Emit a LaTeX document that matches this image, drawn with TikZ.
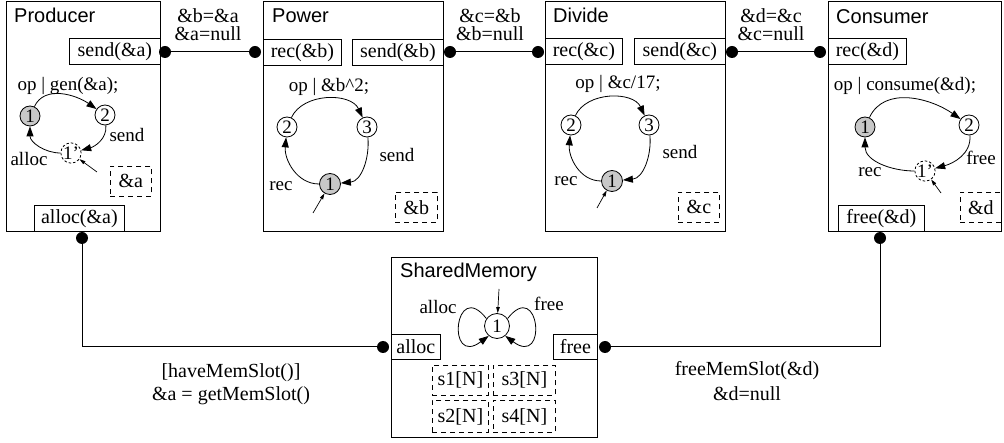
\documentclass[tikz,border=0pt]{standalone}
\usepackage{fontspec}
\setmainfont{Liberation Serif}
\newfontfamily\sansf{Liberation Sans}
\usetikzlibrary{arrows.meta}
\definecolor{stgray}{HTML}{C8C8C8}
\begin{document}
\begin{tikzpicture}[x=1pt,y=-1pt,
  comp/.style={draw, line width=0.9pt, inner sep=0, anchor=north west},
  port/.style={draw, line width=0.8pt, inner sep=0, anchor=north west, font=\fontsize{20}{22}\selectfont},
  slot/.style={draw, dash pattern=on 5pt off 4pt, line width=0.8pt, inner sep=0, anchor=north west, font=\fontsize{20}{22}\selectfont},
  dot/.style={circle, fill=black, minimum size=12pt, inner sep=0},
  st/.style={circle, draw, line width=0.8pt, minimum size=20pt, inner sep=0, font=\fontsize{19}{20}\selectfont},
  ghost/.style={st, dash pattern=on 2.5pt off 2pt, minimum size=18pt},
  tr/.style={-{Triangle[length=10pt,width=7pt]}, line width=0.8pt},
  initarr/.style={-{Triangle[length=6pt,width=3.5pt]}, line width=0.7pt},
  lab/.style={font=\fontsize{19}{20}\selectfont, inner sep=0, anchor=base},
  elab/.style={font=\fontsize{20}{22}\selectfont, inner sep=0, anchor=base},
  title/.style={font=\sansf\fontsize{20}{22}\selectfont, inner sep=0, anchor=base west},
  conn/.style={line width=1pt}
]
\useasboundingbox (0,0) rectangle (1004,443);

% ---------------- Producer
\node[comp, minimum width=154, minimum height=230] (prod) at (6,1) {};
\node[title] (prodT) at (14,23) {Producer};
\node[port, minimum width=91, minimum height=26] (sendA) at (69,38) {send(\&a)};
\node[port, minimum width=90, minimum height=26] (allocA) at (34,205) {alloc(\&a)};
\node[st, fill=stgray] (p1) at (30,116) {1};
\node[st] (p2) at (105,115) {2};
\node[ghost] (p3) at (71,153) {1'};
\node[lab] (pop) at (68,91) {op | gen(\&a);};
\node[lab] (psend) at (127,142) {send};
\node[lab] (palloc) at (29,166) {alloc};
\node[slot, minimum width=41, minimum height=30] (pslot) at (110,166) {\&a};
\coordinate (pi) at (97,172);
\draw[tr] (p1) to[out=65,in=145] (p2);
\draw[tr] (p2) to[out=-85,in=15] (p3);
\draw[tr] (p3) to[out=180,in=-90] (p1);
\draw[initarr] (pi) -- (p3);

% ---------------- Power
\node[comp, minimum width=180, minimum height=230] (pow) at (263,1) {};
\node[title] (powT) at (272,23) {Power};
\node[port, minimum width=78, minimum height=26] (recB) at (263,39) {rec(\&b)};
\node[port, minimum width=91, minimum height=26] (sendB) at (352,39) {send(\&b)};
\node[st] (w2) at (287,127) {2};
\node[st] (w3) at (367,127) {3};
\node[st, fill=stgray, minimum size=21pt] (w1) at (330,184) {1};
\node[lab] (wop) at (329,92) {op | \&b\textasciicircum 2;};
\node[lab] (wsend) at (397,162) {send};
\node[lab] (wrec) at (281,191) {rec};
\node[slot, minimum width=42, minimum height=30] (wslot) at (395,192) {\&b};
\coordinate (wi) at (313,213);
\draw[tr] (w2) to[out=65,in=115] (w3);
\draw[tr] (w3) to[out=-85,in=5] (w1);
\draw[tr] (w1) to[out=180,in=-95] (w2);
\draw[initarr] (wi) -- (w1);

% ---------------- Divide
\node[comp, minimum width=180, minimum height=230] (div) at (545,1) {};
\node[title] (divT) at (553,23) {Divide};
\node[port, minimum width=77, minimum height=26] (recC) at (545,38) {rec(\&c)};
\node[port, minimum width=91, minimum height=26] (sendC) at (634,38) {send(\&c)};
\node[st] (v2) at (571,125) {2};
\node[st] (v3) at (649,125) {3};
\node[st, fill=stgray, minimum size=21pt] (v1) at (612,181) {1};
\node[lab] (vop) at (618,89) {op | \&c/17;};
\node[lab] (vsend) at (680,159) {send};
\node[lab] (vrec) at (566,186) {rec};
\node[slot, minimum width=41, minimum height=30] (vslot) at (678,192) {\&c};
\coordinate (vi) at (597,208);
\draw[tr] (v2) to[out=65,in=115] (v3);
\draw[tr] (v3) to[out=-85,in=5] (v1);
\draw[tr] (v1) to[out=180,in=-95] (v2);
\draw[initarr] (vi) -- (v1);

% ---------------- Consumer
\node[comp, minimum width=173, minimum height=230] (cons) at (828,1) {};
\node[title] (consT) at (836,24) {Consumer};
\node[port, minimum width=78, minimum height=26] (recD) at (828,38) {rec(\&d)};
\node[port, minimum width=86, minimum height=26] (freeD) at (838,205) {free(\&d)};
\node[st, fill=stgray] (c1) at (865,127) {1};
\node[st] (c2) at (969,125) {2};
\node[ghost] (c3) at (925,171) {1'};
\node[lab] (cop) at (905,91) {op | consume(\&d);};
\node[lab] (cfree) at (981,165) {free};
\node[lab] (crec) at (870,177) {rec};
\node[slot, minimum width=41, minimum height=30] (cslot) at (960,192) {\&d};
\coordinate (ci) at (941,193);
\draw[tr] (c1) to[out=65,in=145] (c2);
\draw[tr] (c2) to[out=-85,in=15] (c3);
\draw[tr] (c3) to[out=180,in=-90] (c1);
\draw[initarr] (ci) -- (c3);

% ---------------- SharedMemory
\node[comp, minimum width=206, minimum height=180] (shm) at (391,257) {};
\node[title] (shmT) at (400,278) {SharedMemory};
\node[st, minimum size=25pt] (s) at (497,326) {1};
\coordinate (si) at (499,289);
\draw[initarr] (si) -- (s);
\node[lab] (salloc) at (438,314) {alloc};
\node[lab] (sfree) at (549,311) {free};
\draw[tr] (s.145) .. controls +(-32,-41) and +(-43,32) .. (s.230);
\draw[tr] (s.35) .. controls +(32,-41) and +(43,32) .. (s.-50);
\node[port, minimum width=49, minimum height=25] (allocS) at (391,334) {alloc};
\node[port, minimum width=44, minimum height=25] (freeS) at (553,334) {free};
\node[slot, minimum width=56, minimum height=30] (s1) at (432,365) {s1[N]};
\node[slot, minimum width=56, minimum height=32] (s2) at (432,400) {s2[N]};
\node[slot, minimum width=62, minimum height=30] (s3) at (493,365) {s3[N]};
\node[slot, minimum width=62, minimum height=32] (s4) at (493,400) {s4[N]};

% ---------------- dots and connectors
\node[dot] (dA) at (165,52) {};
\node[dot] (dB1) at (255,52) {};
\node[dot] (dB2) at (450,52) {};
\node[dot] (dC1) at (538,52) {};
\node[dot] (dC2) at (732,52) {};
\node[dot] (dD) at (820,52) {};
\node[dot] (dAa) at (82,238) {};
\node[dot] (dDf) at (880,238) {};
\node[dot] (dS1) at (383,347) {};
\node[dot] (dS2) at (605,347) {};
\draw[conn] (dA) -- (dB1);
\draw[conn] (dB2) -- (dC1);
\draw[conn] (dC2) -- (dD);
\draw[conn] (dAa) |- (dS1);
\draw[conn] (dS2) -| (dDf);

% ---------------- connector labels
\node[elab] (l1a) at (208,23) {\&b=\&a};
\node[elab] (l1b) at (208,41) {\&a=null};
\node[elab] (l2a) at (490,23) {\&c=\&b};
\node[elab] (l2b) at (490,41) {\&b=null};
\node[elab] (l3a) at (771,23) {\&d=\&c};
\node[elab] (l3b) at (771,41) {\&c=null};
\node[elab] (l4a) at (231,378) {[haveMemSlot()]};
\node[elab] (l4b) at (231,401) {\&a = getMemSlot()};
\node[elab] (l5a) at (747,376) {freeMemSlot(\&d)};
\node[elab] (l5b) at (747,401) {\&d=null};
\end{tikzpicture}
\end{document}
